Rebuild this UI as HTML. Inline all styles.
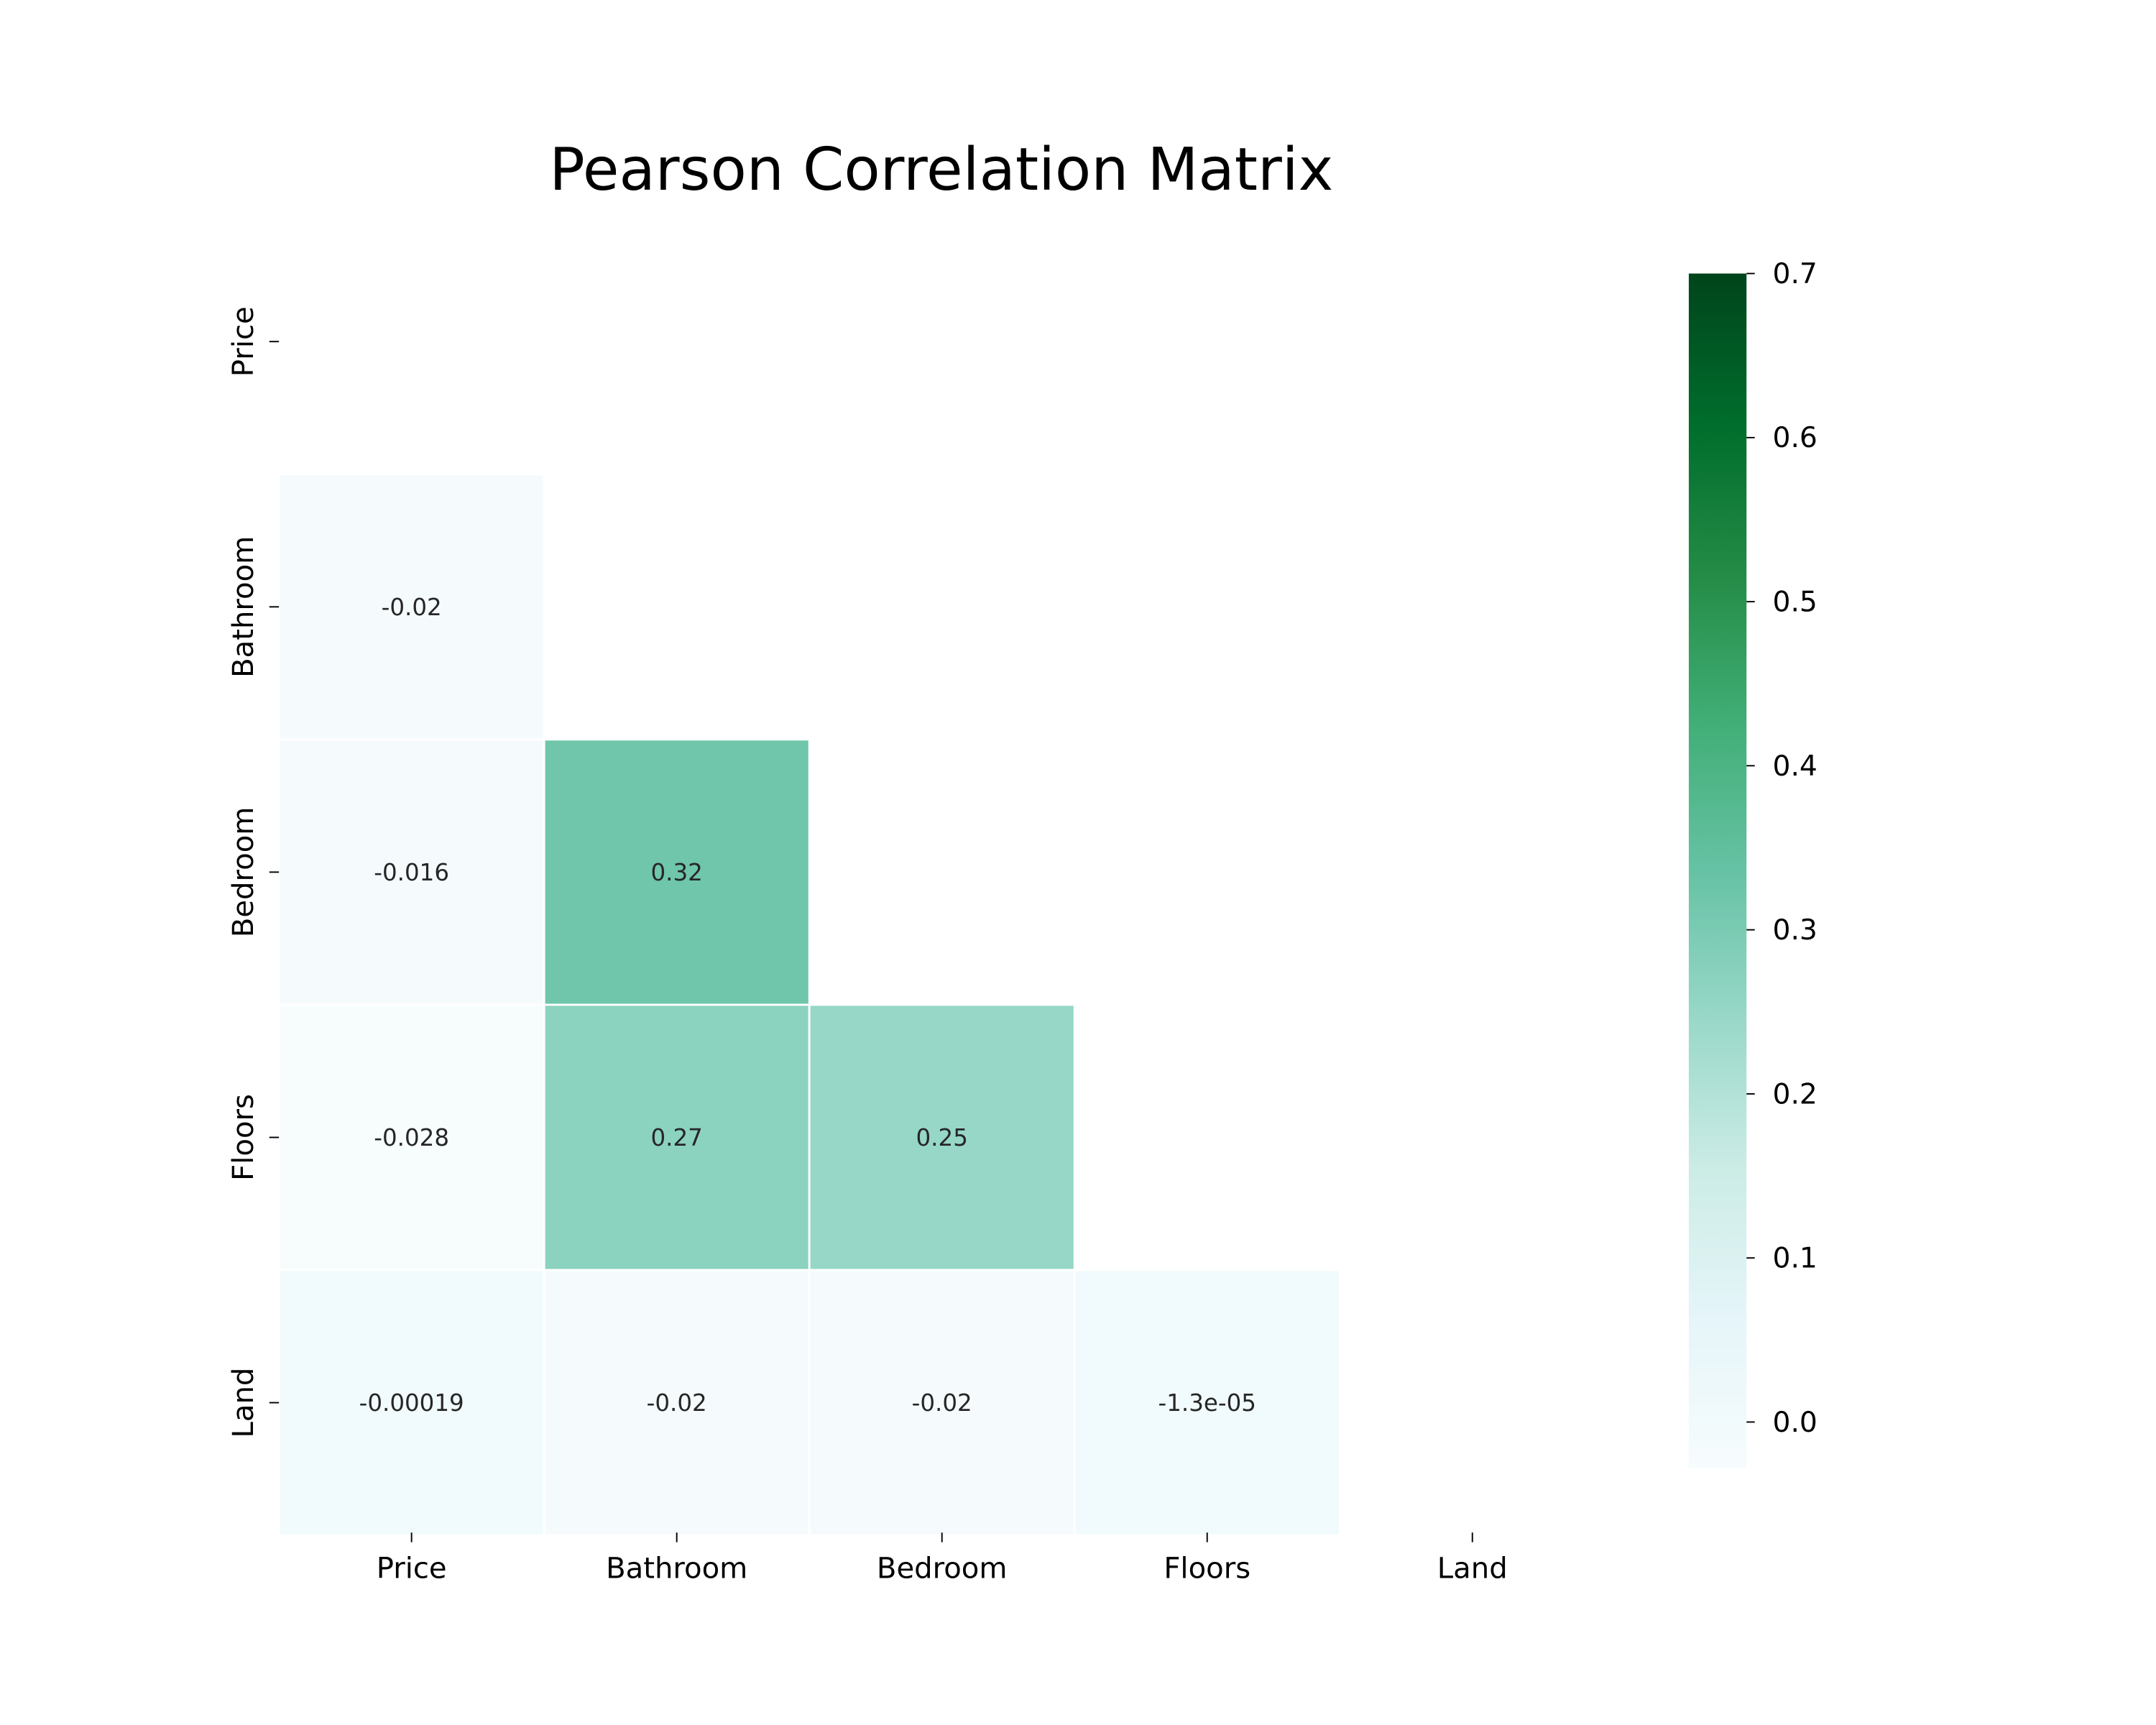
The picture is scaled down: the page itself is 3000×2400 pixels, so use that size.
<!DOCTYPE html>
<html><head><meta charset="utf-8"><style>
html,body{margin:0;padding:0;background:#fff;}
svg{display:block;font-family:"DejaVu Sans","Liberation Sans",sans-serif;}
</style></head><body>
<svg id="chart" width="3000" height="2400" viewBox="0 0 1569 1255" preserveAspectRatio="none" xmlns="http://www.w3.org/2000/svg">
<rect width="1569" height="1255" fill="#fff"/>
<text x="685" y="138" font-size="43" text-anchor="middle" fill="#000">Pearson Correlation Matrix</text>
<g id="cells"></g><g id="axes"></g><g id="cbar"></g>
</svg>
<script>
const labels = ["Price","Bathroom","Bedroom","Floors","Land"];
const rowIdx = [1,2,2,3,3,3,4,4,4,4];
const colIdx = [0,0,1,0,1,2,0,1,2,3];
const values = [-0.02,-0.016,0.32,-0.028,0.27,0.25,-0.00019,-0.02,-0.02,-0.000013];
const valueText = ["-0.02","-0.016","0.32","-0.028","0.27","0.25","-0.00019","-0.02","-0.02","-1.3e-05"];
const cbTicks = [0,0.1,0.2,0.3,0.4,0.5,0.6,0.7];
const vmin = -0.028, vmax = 0.7;

const NS="http://www.w3.org/2000/svg";
const x0=203, y0=152, cw=193;
const xPos = i => x0 + i*cw;
const yPos = i => y0 + i*cw;
const cbTop=199, cbBot=1068, cbX=1229, cbW=42;
const cbY = v => cbBot - (v-vmin)/(vmax-vmin)*(cbBot-cbTop);
const stops=["#f7fcfd","#e5f5f9","#ccece6","#99d8c9","#66c2a4","#41ae76","#238b45","#006d2c","#00441b"];
function hex(h){return [1,3,5].map(i=>parseInt(h.substr(i,2),16));}
function color(v){
  let t=Math.max(0,Math.min(1,(v-vmin)/(vmax-vmin)))*(stops.length-1);
  let i=Math.min(Math.floor(t),stops.length-2), f=t-i;
  const a=hex(stops[i]), b=hex(stops[i+1]);
  return "rgb("+a.map((c,k)=>Math.round(c+(b[k]-c)*f)).join(",")+")";
}
function mk(tag,attrs,parent){const e=document.createElementNS(NS,tag);for(const k in attrs)e.setAttribute(k,attrs[k]);parent.appendChild(e);return e;}

const cells=document.getElementById("cells");
values.forEach((v,k)=>{
  const r=mk("rect",{x:xPos(colIdx[k]),y:yPos(rowIdx[k]),width:cw,height:cw,fill:color(v),stroke:"#fff","stroke-width":1.5},cells);
  
  
  const t=mk("text",{x:xPos(colIdx[k])+cw/2,y:yPos(rowIdx[k])+cw/2+6,"font-size":17,"text-anchor":"middle",fill:v>0.45?"#fff":"#262626"},cells);
  t.textContent=valueText[k];
  
  
});

const axes=document.getElementById("axes");
labels.forEach((l,i)=>{
  const cx=xPos(i)+cw/2, cy=yPos(i)+cw/2;
  mk("line",{x1:cx,x2:cx,y1:1115,y2:1122,stroke:"#000","stroke-width":1},axes);
  const tx=mk("text",{x:cx,y:1148,"font-size":21,"text-anchor":"middle",fill:"#000"},axes);
  tx.textContent=l;
  
  
  mk("line",{x1:196,x2:203,y1:cy,y2:cy,stroke:"#000","stroke-width":1},axes);
  const ty=mk("text",{x:184,y:cy,"font-size":21,"text-anchor":"middle",fill:"#000",transform:"rotate(-90 184 "+cy+")"},axes);
  ty.textContent=l;
  
  
});

const cb=document.getElementById("cbar");
const defs=mk("defs",{},cb);
const g=mk("linearGradient",{id:"cbg",x1:0,y1:1,x2:0,y2:0},defs);
stops.forEach((s,i)=>mk("stop",{offset:i/(stops.length-1),"stop-color":s},g));
const cr=mk("rect",{x:cbX,y:cbTop,width:cbW,height:cbBot-cbTop,fill:"url(#cbg)"},cb);


cbTicks.forEach(v=>{
  const y=cbY(v);
  mk("line",{x1:cbX+cbW,x2:cbX+cbW+6,y1:y,y2:y,stroke:"#000","stroke-width":1},cb);
  const t=mk("text",{x:cbX+cbW+19,y:y+7,"font-size":20.5,fill:"#000"},cb);
  t.textContent=v.toFixed(1);
  
  
});
</script>
</body></html>
